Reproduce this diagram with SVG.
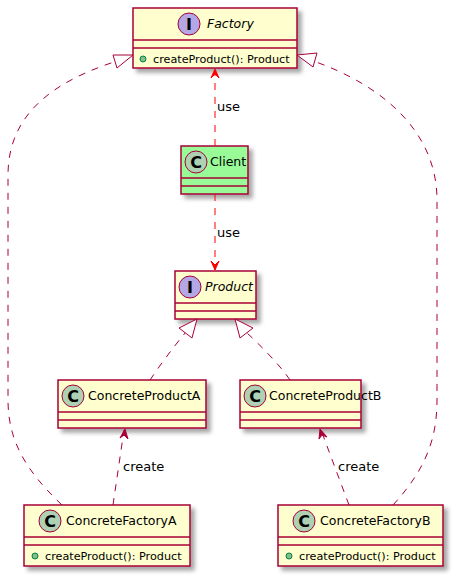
<svg xmlns="http://www.w3.org/2000/svg" width="452" height="575" viewBox="0 0 452 575">
<defs>
<filter id="sh" x="-10%" y="-10%" width="130%" height="140%">
<feDropShadow dx="4" dy="4" stdDeviation="2" flood-color="#000" flood-opacity="0.35"/>
</filter>
</defs>
<style>
.box{fill:#FEFECE;stroke:#A80036;stroke-width:1.5;}
.green{fill:#98FB98;stroke:#A80036;stroke-width:1.5;}
.sep{stroke:#A80036;stroke-width:1.5;}
.ci{fill:#B4A7E5;stroke:#A80036;stroke-width:1;}
.cc{fill:#ADD1B2;stroke:#A80036;stroke-width:1;}
.glyph{font-family:"DejaVu Sans",sans-serif;font-size:16px;font-weight:bold;fill:#000;text-anchor:middle;}
.name{font-family:"DejaVu Sans",sans-serif;font-size:12.5px;fill:#000;}
.it{font-style:italic;}
.mem{font-family:"DejaVu Sans",sans-serif;font-size:11.2px;fill:#000;}
.dot{fill:#84BE84;stroke:#038048;stroke-width:1;}
.lbl{font-family:"DejaVu Sans",sans-serif;font-size:13px;fill:#000;}
.dr{fill:none;stroke:#A80036;stroke-width:1;stroke-dasharray:7,7;}
.dred{fill:none;stroke:#FF0000;stroke-width:1;stroke-dasharray:7,7;}
.tri{fill:#FFFFFF;stroke:#A80036;stroke-width:1;}
.ahr{fill:#FF0000;stroke:#FF0000;stroke-width:1;}
.ahd{fill:#A80036;stroke:#A80036;stroke-width:1;}
</style>

<g id="Factory">
<rect class="box" x="133" y="8" width="164" height="60" filter="url(#sh)"/>
<line class="sep" x1="133" y1="40" x2="297" y2="40"/>
<line class="sep" x1="133" y1="48" x2="297" y2="48"/>
<circle class="ci" cx="189" cy="24" r="11"/>
<text class="glyph" x="189" y="29.5">I</text>
<text class="name it" x="207" y="28">Factory</text>
<circle class="dot" cx="143" cy="59" r="3"/>
<text class="mem" x="153" y="63">createProduct(): Product</text>
</g>

<g id="Client">
<rect class="green" x="181" y="146" width="67" height="48" filter="url(#sh)"/>
<line class="sep" x1="181" y1="178" x2="248" y2="178"/>
<line class="sep" x1="181" y1="186" x2="248" y2="186"/>
<circle class="cc" cx="196" cy="162" r="11"/>
<text class="glyph" x="196" y="167.5">C</text>
<text class="name" x="210" y="166">Client</text>
</g>

<g id="Product">
<rect class="box" x="175" y="271" width="81" height="48" filter="url(#sh)"/>
<line class="sep" x1="175" y1="303" x2="256" y2="303"/>
<line class="sep" x1="175" y1="311" x2="256" y2="311"/>
<circle class="ci" cx="190" cy="287" r="11"/>
<text class="glyph" x="190" y="292.5">I</text>
<text class="name it" x="205" y="291">Product</text>
</g>

<g id="ConcreteProductA">
<rect class="box" x="58" y="380" width="148" height="48" filter="url(#sh)"/>
<line class="sep" x1="58" y1="412" x2="206" y2="412"/>
<line class="sep" x1="58" y1="420" x2="206" y2="420"/>
<circle class="cc" cx="73" cy="396" r="11"/>
<text class="glyph" x="73" y="401.5">C</text>
<text class="name" x="88" y="400">ConcreteProductA</text>
</g>

<g id="ConcreteProductB">
<rect class="box" x="240" y="380" width="121" height="48" filter="url(#sh)"/>
<line class="sep" x1="240" y1="412" x2="361" y2="412"/>
<line class="sep" x1="240" y1="420" x2="361" y2="420"/>
<circle class="cc" cx="255" cy="396" r="11"/>
<text class="glyph" x="255" y="401.5">C</text>
<text class="name" x="269" y="400">ConcreteProductB</text>
</g>

<g id="ConcreteFactoryA">
<rect class="box" x="24" y="505" width="166" height="61" filter="url(#sh)"/>
<line class="sep" x1="24" y1="537" x2="190" y2="537"/>
<line class="sep" x1="24" y1="545" x2="190" y2="545"/>
<circle class="cc" cx="50" cy="521" r="11"/>
<text class="glyph" x="50" y="526.5">C</text>
<text class="name" x="66" y="525">ConcreteFactoryA</text>
<circle class="dot" cx="35" cy="556" r="3"/>
<text class="mem" x="45" y="560">createProduct(): Product</text>
</g>

<g id="ConcreteFactoryB">
<rect class="box" x="278" y="505" width="165" height="61" filter="url(#sh)"/>
<line class="sep" x1="278" y1="537" x2="443" y2="537"/>
<line class="sep" x1="278" y1="545" x2="443" y2="545"/>
<circle class="cc" cx="304" cy="521" r="11"/>
<text class="glyph" x="304" y="526.5">C</text>
<text class="name" x="320" y="525">ConcreteFactoryB</text>
<circle class="dot" cx="289" cy="556" r="3"/>
<text class="mem" x="299" y="560">createProduct(): Product</text>
</g>

<g id="connectors">
<path class="dred" d="M215,146 L215,70"/>
<polygon class="ahr" points="215,69 211,78 215,74 219,78"/>
<text class="lbl" x="217" y="111">use</text>
<path class="dred" d="M215,194 L215,270"/>
<polygon class="ahr" points="215,270 211,261 215,265 219,261"/>
<text class="lbl" x="217" y="237">use</text>
<path class="dr" d="M150,380 C160,365 175,345 186,332"/>
<polygon class="tri" points="197,319 179,328 192,338"/>
<path class="dr" d="M290,380 C280,365 260,345 246,332"/>
<polygon class="tri" points="235,319 240,338 253,328"/>
<path class="dr" d="M113,505 L124,430"/>
<polygon class="ahd" points="125,429 120,438 124,435 128,439"/>
<text class="lbl" x="123" y="471">create</text>
<path class="dr" d="M349,505 L321,430"/>
<polygon class="ahd" points="320,429 319,439 322,435 327,437"/>
<text class="lbl" x="338" y="471">create</text>
<path class="dr" d="M62,505 C25,470 8,440 8,400 L8,175 C8,110 60,80 114,62"/>
<polygon class="tri" points="133,55 113,55 117,68"/>
<path class="dr" d="M393,505 C425,470 437,440 437,400 L437,200 C437,130 380,85 316,62"/>
<polygon class="tri" points="297,55 317,53 313,67"/>
</g>
</svg>
